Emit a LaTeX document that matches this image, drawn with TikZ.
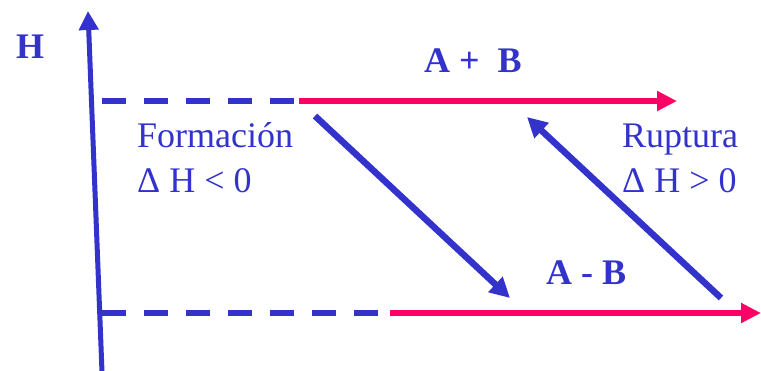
\documentclass[tikz,border=0pt]{standalone}
\usepackage{fontspec}
\setmainfont{Liberation Serif}
\usetikzlibrary{arrows.meta}
\definecolor{myblue}{HTML}{3333CC}
\definecolor{myred}{HTML}{FF0066}
\tikzset{
  axisline/.style={draw=myblue, line width=5pt, -{Triangle[length=19pt,width=19pt]}},
  dashline/.style={draw=myblue, line width=6pt, dash pattern=on 24pt off 18pt},
  redline/.style={draw=myred, line width=5.5pt, -{Triangle[length=20pt,width=19pt]}},
  diagarrow/.style={draw=myblue, line width=6.5pt, -{Triangle[length=20pt,width=20pt]}},
  boldlbl/.style={text=myblue, font=\fontsize{36}{40}\selectfont\bfseries, inner sep=0pt, anchor=base west},
  reglbl/.style={text=myblue, font=\fontsize{36}{40}\selectfont, inner sep=0pt, anchor=base west, align=left},
}
\begin{document}
\begin{tikzpicture}[x=1pt,y=-1pt]
\useasboundingbox (0,0) rectangle (761,370);
% coordinates
\coordinate (axB) at (102,372);
\coordinate (axT) at (88,11);
\coordinate (d1s) at (102,101);
\coordinate (d1e) at (294,101);
\coordinate (r1s) at (299,101);
\coordinate (r1e) at (677,101);
\coordinate (d2s) at (102,313);
\coordinate (d2e) at (378,313);
\coordinate (r2s) at (390,313);
\coordinate (r2e) at (761,313);
\coordinate (f1s) at (315,116);
\coordinate (f1e) at (510,298);
\coordinate (f2s) at (721,298);
\coordinate (f2e) at (527,117);
% lines
\draw[axisline] (axB) -- (axT);
\draw[dashline] (d1s) -- (d1e);
\draw[redline] (r1s) -- (r1e);
\draw[dashline] (d2s) -- (d2e);
\draw[redline] (r2s) -- (r2e);
\draw[diagarrow] (f1s) -- (f1e);
\draw[diagarrow] (f2s) -- (f2e);
% labels
\node[boldlbl] (H) at (16,58) {H};
\node[boldlbl] (AB) at (424,72) {A +\ \ B};
\node[boldlbl] (AmB) at (546,284) {A - B};
\node[reglbl] (form) at (137,147) {Formación};
\node[reglbl] (dhn) at (137,192) {Δ H < 0};
\node[reglbl] (rupt) at (622,147) {Ruptura};
\node[reglbl] (dhp) at (622,192) {Δ H > 0};
\end{tikzpicture}
\end{document}
